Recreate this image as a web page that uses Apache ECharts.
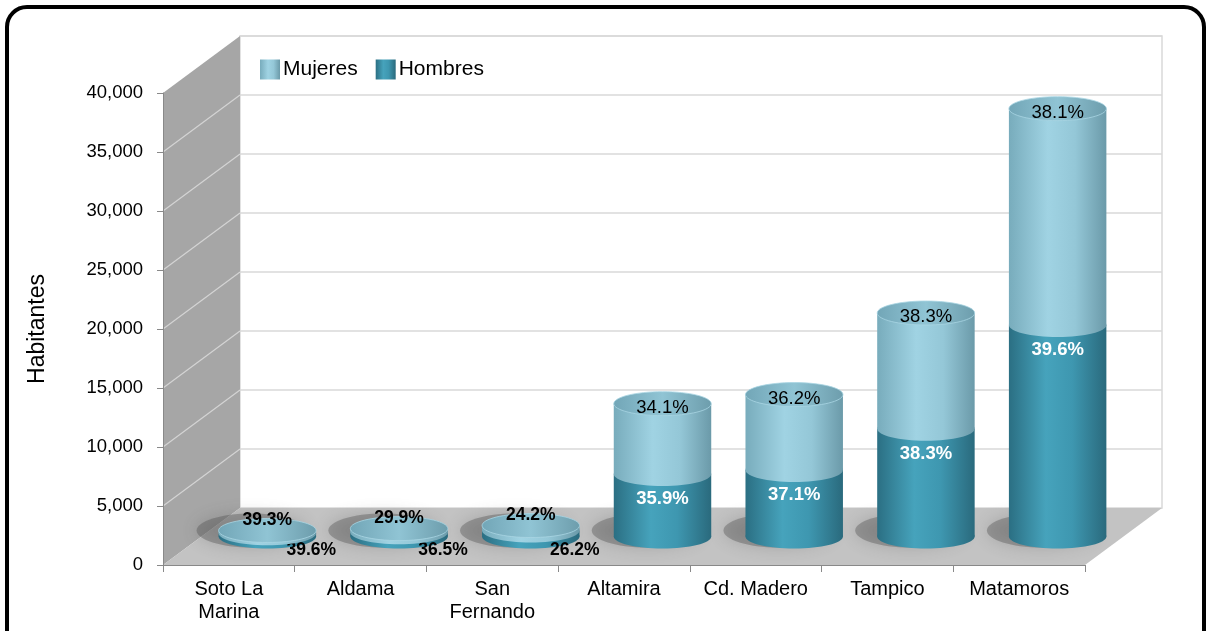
<!DOCTYPE html>
<html>
<head>
<meta charset="utf-8">
<script src="https://cdn.jsdelivr.net/npm/echarts@6/dist/echarts.min.js"></script>
<style>
  html, body { margin: 0; padding: 0; width: 1206px; height: 631px; overflow: hidden; background: #fff; }
  #frame { position: absolute; left: 5px; top: 5px; width: 1193px; height: 720px; border: 4px solid #000; border-radius: 22px; }
  #chart { position: absolute; left: 0; top: 0; width: 1206px; height: 631px; }
</style>
</head>
<body>
<div id="frame"></div>
<div id="chart"></div>
<script>
// ---- data ----
const categories = ['Soto La\nMarina', 'Aldama', 'San\nFernando', 'Altamira', 'Cd. Madero', 'Tampico', 'Matamoros'];
const hombres = [280, 370, 500, 5290, 5630, 9130, 17920];
const mujeres = [230, 300, 430, 5970, 6400, 9810, 18340];
const pctHombres = ['39.6%', '36.5%', '26.2%', '35.9%', '37.1%', '38.3%', '39.6%'];
const pctMujeres = ['39.3%', '29.9%', '24.2%', '34.1%', '36.2%', '38.3%', '38.1%'];
const yMax = 40000, yStep = 5000;

// ---- styling constants (3D look) ----
const DX = 77, DY = -57;   // depth offset of the back wall
const RY = 12;             // ellipse vertical radius
const BAR_RATIO = 0.74;
const FONT = 'Liberation Sans, Arial, sans-serif';

const LG = echarts.graphic.LinearGradient;
const gradH = () => new LG(0, 0, 1, 0, [
  { offset: 0, color: '#2b6f83' }, { offset: 0.38, color: '#46a3bc' },
  { offset: 0.65, color: '#3e97b0' }, { offset: 1, color: '#2a6a7d' }]);
const gradM = () => new LG(0, 0, 1, 0, [
  { offset: 0, color: '#78acbc' }, { offset: 0.4, color: '#a0d3e3' },
  { offset: 0.68, color: '#94c7d7' }, { offset: 1, color: '#6b9aa9' }]);
const gradCap = () => new LG(0, 0, 1, 0, [
  { offset: 0, color: '#72a6b7' }, { offset: 0.5, color: '#90c4d4' },
  { offset: 1, color: '#6d9dac' }]);

function cylinder(isTop) {
  return function (params, api) {
    const i = api.value(0);
    const p0 = api.coord([i, api.value(1)]);
    const p1 = api.coord([i, api.value(2)]);
    const band = api.size([1, 0])[0];
    const rx = band * BAR_RATIO / 2;
    const cx = p0[0] + DX / 2;
    const yb = p0[1] + DY / 2;
    const yt = p1[1] + DY / 2;
    const fill = isTop ? gradM() : gradH();
    const children = [];
    if (!isTop) {
      children.push({
        type: 'ellipse', shape: { cx: cx - 16, cy: yb - 6, rx: rx + 6, ry: RY + 5 },
        style: { fill: 'rgba(80,80,80,0.38)', shadowBlur: 16, shadowColor: 'rgba(70,70,70,0.6)' }, z2: 0
      });
    }
    children.push({ type: 'rect', shape: { x: cx - rx, y: yt, width: 2 * rx, height: Math.max(0, yb - yt) }, style: { fill }, z2: 1 });
    children.push({ type: 'ellipse', shape: { cx, cy: yb, rx, ry: RY }, style: { fill }, z2: 1 });
    if (isTop) {
      children.push({ type: 'ellipse', shape: { cx, cy: yt, rx, ry: RY }, style: { fill: gradCap(), stroke: '#a9d6e3', lineWidth: 0.8 }, z2: 2 });
    }
    const small = (yb - yt) < 30;
    const txt = isTop ? pctMujeres[i] : pctHombres[i];
    let lab;
    if (isTop) {
      lab = small
        ? { x: cx, y: yt - 10, fill: '#000', fontWeight: 'bold', fontSize: 17.5 }
        : { x: cx, y: yt + 4, fill: '#000', fontWeight: 'normal', fontSize: 18.5 };
    } else {
      lab = small
        ? { x: cx + 44, y: yb + 14, fill: '#000', fontWeight: 'bold', fontSize: 17.5 }
        : { x: cx, y: yt + 25, fill: '#fff', fontWeight: 'bold', fontSize: 18.5 };
    }
    children.push({
      type: 'text', z2: 10,
      style: { text: txt, x: lab.x, y: lab.y, fill: lab.fill, fontWeight: lab.fontWeight, fontSize: lab.fontSize,
        fontFamily: FONT, align: 'center', verticalAlign: 'middle' }
    });
    return { type: 'group', children };
  };
}

function walls(params, api) {
  const cs = params.coordSys;
  const x0 = cs.x, x1 = cs.x + cs.width;
  const yTop = cs.y, yBot = cs.y + cs.height;
  const ch = [];
  ch.push({ type: 'rect', shape: { x: x0 + DX, y: yTop + DY, width: cs.width, height: cs.height },
    style: { fill: '#fff', stroke: '#d9d9d9', lineWidth: 1.5 } });
  ch.push({ type: 'polygon', shape: { points: [[x0, yTop], [x0 + DX, yTop + DY], [x0 + DX, yBot + DY], [x0, yBot]] },
    style: { fill: '#a6a6a6' } });
  ch.push({ type: 'polygon', shape: { points: [[x0, yBot], [x0 + DX, yBot + DY], [x1 + DX, yBot + DY], [x1, yBot]] },
    style: { fill: '#c3c3c3' } });
  for (let v = yStep; v <= yMax; v += yStep) {
    const y = api.coord([0, v])[1];
    ch.push({ type: 'line', shape: { x1: x0 + DX, y1: y + DY, x2: x1 + DX, y2: y + DY },
      style: { stroke: '#d9d9d9', lineWidth: 1.5 } });
    if (v < yMax) {
      ch.push({ type: 'line', shape: { x1: x0, y1: y, x2: x0 + DX, y2: y + DY },
        style: { stroke: '#d4d4d4', lineWidth: 1.2 } });
    }
  }
  return { type: 'group', children: ch };
}

const chart = echarts.init(document.getElementById('chart'), null, { renderer: 'canvas' });
chart.setOption({
  animation: false,
  textStyle: { fontFamily: FONT },
  grid: { left: 163, right: 121, top: 93, bottom: 66 },
  legend: {
    data: ['Mujeres', 'Hombres'], left: 255, top: 54, itemWidth: 20, itemHeight: 20, itemGap: 18,
    icon: 'rect', textStyle: { fontSize: 21, color: '#000', fontFamily: FONT, padding: [0, 0, 0, -2] }, selectedMode: false
  },
  xAxis: {
    type: 'category', data: categories,
    axisLine: { show: true, lineStyle: { color: '#898989', width: 1 } },
    axisTick: { show: true, interval: 0, length: 7, lineStyle: { color: '#898989' } },
    axisLabel: { interval: 0, fontSize: 20, color: '#000', margin: 13, lineHeight: 23, fontFamily: FONT },
    splitLine: { show: false }
  },
  yAxis: {
    type: 'value', min: 0, max: yMax, interval: yStep,
    name: 'Habitantes', nameLocation: 'middle', nameGap: 114,
    nameTextStyle: { fontSize: 23, color: '#000', fontFamily: FONT },
    axisLine: { show: true, lineStyle: { color: '#898989' } },
    axisTick: { show: true, length: 6, lineStyle: { color: '#898989' } },
    axisLabel: { fontSize: 18.5, color: '#000', margin: 20, fontFamily: FONT,
      formatter: v => v.toLocaleString('en-US') },
    splitLine: { show: false }
  },
  series: [
    { type: 'custom', name: 'walls', silent: true, z: 0, renderItem: walls, data: [[0, 0]], encode: { x: 0, y: 1 } },
    { type: 'custom', name: 'Hombres', z: 2, renderItem: cylinder(false),
      itemStyle: { color: gradH() },
      data: categories.map((c, i) => [i, 0, hombres[i]]), encode: { x: 0, y: [1, 2] } },
    { type: 'custom', name: 'Mujeres', z: 3, renderItem: cylinder(true),
      itemStyle: { color: gradM() },
      data: categories.map((c, i) => [i, hombres[i], hombres[i] + mujeres[i]]), encode: { x: 0, y: [1, 2] } }
  ]
});
</script>
</body>
</html>
